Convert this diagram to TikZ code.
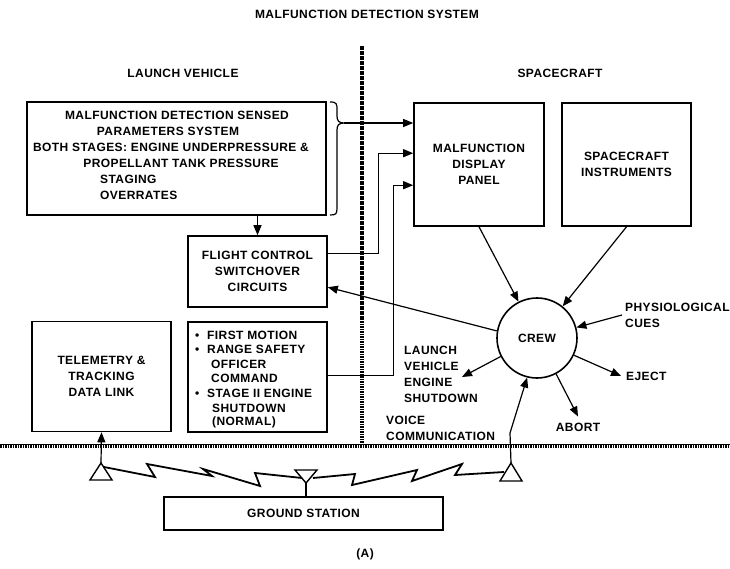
\documentclass[tikz,border=0pt]{standalone}
\usepackage{fontspec}
\setmainfont{Liberation Sans}[LetterSpace=3.5]
\usetikzlibrary{arrows.meta}
\begin{document}
\begin{tikzpicture}[x=1pt,y=-1pt,
  every node/.style={font=\fontsize{12}{16}\selectfont\bfseries},
  box/.style={draw, line width=1.6pt, inner sep=0pt, align=center},
  txt/.style={inner sep=0pt, text height=8.6pt, text depth=0pt},
  mtxt/.style={inner sep=0pt},
  con/.style={line width=1.2pt},
  arr/.style={con, -{Triangle[length=10pt,width=8pt]}},
  bolt/.style={line width=1.8pt, line join=miter},
  ant/.style={line width=1.4pt, line join=miter},
  rail/.style={line width=4.5pt, dash pattern=on 1.6pt off 0.9pt}
]
\useasboundingbox (0,0) rectangle (730,569);

% separators
\draw[rail] (0,446) -- (730,446);
\draw[line width=1pt] (0,444) -- (730,444);
\draw[rail] (362,46) -- (362,444);

% headings
\node[txt] (title) at (367,14) {MALFUNCTION DETECTION SYSTEM};
\node[txt] (lv) at (183,73) {LAUNCH VEHICLE};
\node[txt] (sc) at (560,73) {SPACECRAFT};
\node[txt] (fig) at (365,553) {(A)};

% sensed parameters box
\node[box, minimum width=299pt, minimum height=113pt] (sens) at (176.5,158.5) {};
\node[txt] (s1) at (177,115) {MALFUNCTION DETECTION SENSED};
\node[txt] (s2) at (168,131) {PARAMETERS SYSTEM};
\node[txt] (s3) at (171,147) {BOTH STAGES: ENGINE UNDERPRESSURE \&};
\node[txt] (s4) at (181,163) {PROPELLANT TANK PRESSURE};
\node[txt, anchor=west] (s5) at (100,179) {STAGING};
\node[txt, anchor=west] (s6) at (100,195) {OVERRATES};

% brace
\draw[con] (330,102) .. controls (337,102) and (337,104) .. (337,110) -- (337,116)
  .. controls (337,121) and (339,123) .. (344,123)
  .. controls (339,123) and (337,125) .. (337,130) -- (337,208)
  .. controls (337,214) and (336,215) .. (330,215);
\coordinate (btip) at (344,123);

% spacecraft boxes
\node[box, minimum width=130pt, minimum height=123pt] (panel) at (479,164.5) {MALFUNCTION\\DISPLAY\\PANEL};
\node[box, minimum width=129pt, minimum height=123pt] (instr) at (626.5,164.5) {SPACECRAFT\\INSTRUMENTS};

% launch vehicle boxes
\node[box, minimum width=139pt, minimum height=71pt] (fc) at (257.5,271.5) {FLIGHT CONTROL\\SWITCHOVER\\CIRCUITS};
\node[box, minimum width=139pt, minimum height=110pt] (tel) at (101.5,376.5) {TELEMETRY \&\\TRACKING\\DATA LINK};
\node[box, minimum width=139pt, minimum height=110pt] (bul) at (257.5,377) {};
\node[txt, anchor=west] (b1) at (195,335) {\makebox[12pt][l]{\textbullet}FIRST MOTION};
\node[txt, anchor=west] (b2) at (195,349) {\makebox[12pt][l]{\textbullet}RANGE SAFETY};
\node[txt, anchor=west] (b3) at (211,364) {OFFICER};
\node[txt, anchor=west] (b4) at (211,378) {COMMAND};
\node[txt, anchor=west] (b5) at (195,393) {\makebox[12pt][l]{\textbullet}STAGE II ENGINE};
\node[txt, anchor=west] (b6) at (212,408) {SHUTDOWN};
\node[txt, anchor=west] (b7) at (212,421) {(NORMAL)};

% ground station
\node[box, minimum width=279pt, minimum height=33pt] (gs) at (303.5,513.5) {GROUND STATION};

% crew
\node[draw, circle, line width=1.6pt, minimum size=80pt, inner sep=0pt] (crew) at (537,338) {CREW};

% crew labels
\node[mtxt, anchor=west, align=left] (phys) at (625,315) {PHYSIOLOGICAL\\CUES};
\node[txt, anchor=west] (eject) at (626,376) {EJECT};
\node[txt] (abort) at (578,427) {ABORT};
\node[mtxt, anchor=west, align=left] (lvs) at (404,374.5) {LAUNCH\\VEHICLE\\ENGINE\\SHUTDOWN};
\coordinate (lvsin) at (462,377);
\node[mtxt, anchor=west, align=left] (voice) at (386,428.5) {VOICE\\COMMUNICATION};

% connectors
\draw[arr] (btip) -- (btip -| panel.west);
\draw[arr] (fc.north |- sens.south) -- (fc.north);
\draw[arr] ([yshift=-18pt]fc.north east) -- ++(51,0) |- ([yshift=-51pt]panel.north west);
\draw[arr] ([yshift=-54pt]bul.north east) -- ++(66,0) |- ([yshift=-83pt]panel.north west);
\draw[arr] (crew.170) -- ([yshift=-52pt]fc.north east);
\draw[arr] (panel.south) -- (crew.117);
\draw[arr] (instr.south) -- (crew.51);
\draw[arr] ([xshift=-3pt]phys.west) -- (crew.15);
\draw[arr] (crew.-25) -- ([xshift=-5pt]eject.west);
\draw[arr] (crew.-62) -- ([yshift=6pt]abort.north);
\draw[arr] (crew.207) -- (lvsin);

% antennas
\coordinate (lant) at (101,463);
\coordinate (rant) at (511,463);
\coordinate (mant) at (306,483);
\draw[ant] (lant) -- ++(-11,17) -- ++(22,0) -- cycle;
\draw[ant] (rant) -- ++(-11,18) -- ++(22,0) -- cycle;
\draw[ant] (mant) -- ++(-11,-13) -- ++(22,0) -- cycle;
\draw[con] (mant) -- (mant |- gs.north);
\draw[arr] (lant) -- (tel.south);
\coordinate (vbend) at (510,433);
\draw[arr] (rant) -- (vbend) -- (crew.-104);

% radio links
\draw[bolt] (104,467) -- (155,477) -- (147,464) -- (212,476) -- (203,469) -- (260,486) -- (255,473) -- (302,478);
\draw[bolt] (313,478) -- (355,474) -- (352,485) -- (417,470) -- (412,481) -- (462,464) -- (455,475) -- (504,472);
\end{tikzpicture}
\end{document}
